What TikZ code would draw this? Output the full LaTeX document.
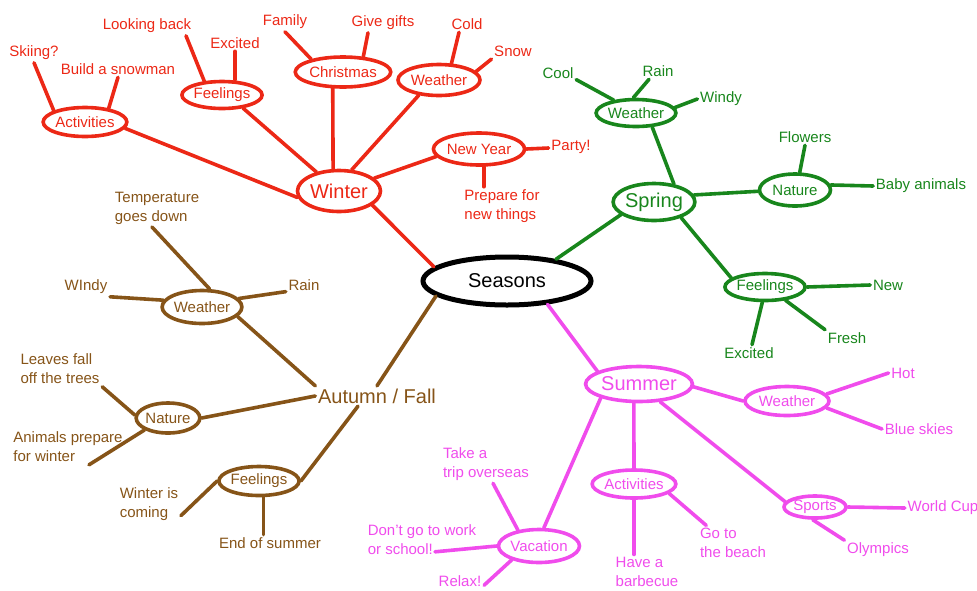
\documentclass[tikz,border=0pt]{standalone}
\usepackage{fontspec}
\setmainfont{Liberation Sans}
\usetikzlibrary{shapes.geometric}
\definecolor{wred}{RGB}{236,40,22}
\definecolor{sgreen}{RGB}{24,134,28}
\definecolor{fbrown}{RGB}{134,84,24}
\definecolor{smag}{RGB}{240,76,236}
\tikzset{
  bub/.style={ellipse, draw, line width=3.6pt, inner sep=0pt},
  sz/.style 2 args={minimum width=#1pt, minimum height=#2pt},
  lbl/.style={inner sep=1pt, align=left},
  big/.style={font=\fontsize{20}{24}\selectfont},
}

\begin{document}
\begin{tikzpicture}[x=1pt, y=-1pt, font=\fontsize{15}{19}\selectfont, line width=3.6pt, line cap=round]
  \useasboundingbox (0,0) rectangle (977,590);
  % centre
  \node[bub, big, line width=5pt, sz={168}{48}] (seasons) at (507,281) {Seasons};

  % winter (red)
  \begin{scope}[wred]
    \node[bub, big, sz={83}{41}] (winter) at (339,191) {Winter};
    \node[bub, sz={76}{29}] (wact) at (85,122) {Activities};
    \node[bub, sz={77}{27}] (wfeel) at (222,95) {Feelings};
    \node[bub, sz={80}{30}] (wchr) at (343,72) {Christmas};
    \node[bub, sz={82}{31}] (wwea) at (439,80) {Weather};
    \node[bub, sz={84}{32}] (wny) at (479,149) {New Year};
    \node[lbl] (ski) at (34,53) {Skiing?};
    \node[lbl] (snowman) at (118,69) {Build a snowman};
    \node[lbl] (look) at (147,26) {Looking back};
    \node[lbl] (wexc) at (235,43) {Excited};
    \node[lbl] (fam) at (285,22) {Family};
    \node[lbl] (gifts) at (383,23) {Give gifts};
    \node[lbl] (cold) at (467,24) {Cold};
    \node[lbl] (snow) at (513,51) {Snow};
    \node[lbl] (party) at (571,147) {Party!};
    \node[lbl] (prep) at (502,206) {Prepare for\\new things};
    \draw (ski.south) -- (wact.160);
    \draw (snowman.south) -- (wact.30);
    \draw (wact.-9) -- (winter.189);
    \draw ([xshift=-8pt]look.south east) -- (wfeel.142);
    \draw (wexc.south) -- (wexc.south |- wfeel.north);
    \draw (wfeel.-32) -- (winter.140);
    \draw (fam.south) -- (wchr.158);
    \draw ([xshift=-15pt]gifts.south) -- (wchr.37);
    \draw (wchr.-122) -- (winter.105);
    \draw ([xshift=-8pt]cold.south) -- (wwea.53);
    \draw (snow.south west) -- (wwea.13);
    \draw (wwea.-143) -- (winter.59);
    \draw (wny.190) -- (winter.20);
    \draw (wny.east) -- (party);
    \draw (wny.-75) -- (wny.-75 |- prep.north);
    \draw (winter.-23) -- (seasons.169);
  \end{scope}

  % spring (green)
  \begin{scope}[sgreen]
    \node[bub, big, sz={79}{37}] (spring) at (654,202) {Spring};
    \node[bub, sz={77}{27}] (gwea) at (636,113) {Weather};
    \node[bub, sz={71}{32}] (gnat) at (795,190) {Nature};
    \node[bub, sz={80}{27}] (gfeel) at (765,287) {Feelings};
    \node[lbl] (gcool) at (558,73) {Cool};
    \node[lbl] (grain) at (658,71) {Rain};
    \node[lbl] (gwindy) at (721,99) {Windy};
    \node[lbl] (gflow) at (805,137) {Flowers};
    \node[lbl] (gbaby) at (921,186) {Baby animals};
    \node[lbl] (gnew) at (888,285) {New};
    \node[lbl] (gfresh) at (847,338) {Fresh};
    \node[lbl] (gexc) at (749,353) {Excited};
    \draw (gcool.-20) -- (gwea.150);
    \draw ([xshift=-9pt]grain.south) -- (gwea.100);
    \draw (gwindy.west) -- (gwea.8);
    \draw (gwea.-41) -- (spring.42);
    \draw (spring.10) -- (gnat.182);
    \draw (gflow.south) -- (gnat.75);
    \draw (gnat.8) -- (gbaby.west);
    \draw (spring.-30) -- (gfeel.165);
    \draw (gfeel.east) -- (gnew.west);
    \draw (gfeel.-33) -- (gfresh.north west);
    \draw (gfeel.-100) -- ([xshift=3pt]gexc.north);
    \draw (spring.201) -- (seasons.24);
  \end{scope}

  % autumn (brown)
  \begin{scope}[fbrown]
    \node[big, inner sep=1pt] (autumn) at (377,396) {Autumn / Fall};
    \node[bub, sz={73}{33}] (bwea) at (202,307) {Weather};
    \node[bub, sz={61}{30}] (bnat) at (168,418) {Nature};
    \node[bub, sz={74}{29}] (bfeel) at (259,481) {Feelings};
    \node[lbl] (btemp) at (157,208) {Temperature\\goes down};
    \node[lbl] (bwindy) at (86,287) {WIndy};
    \node[lbl] (brain) at (304,285) {Rain};
    \node[lbl] (bleaves) at (60,369) {Leaves fall\\off the trees};
    \node[lbl] (banim) at (68,447) {Animals prepare\\for winter};
    \node[lbl] (bwin) at (149,504) {Winter is\\coming};
    \node[lbl] (bend) at (270,543) {End of summer};
    \draw ([xshift=-5pt]btemp.south) -- (bwea.67);
    \draw (bwindy.south east) -- (bwea.170);
    \draw (brain.200) -- (bwea.13);
    \draw (bwea.-15) -- (autumn.north west);
    \draw (bleaves.south east) -- (bnat.175);
    \draw ([xshift=21pt]banim.south) -- (bnat.207);
    \draw (bnat.east) -- (autumn.west);
    \draw ([xshift=-19pt]autumn.south) -- (bfeel.east);
    \draw (autumn.north) -- (seasons.192);
    \draw (bwin.-20) -- (bfeel.west);
    \draw (bfeel.-75) -- (bfeel.-75 |- bend.north);
  \end{scope}

  % summer (magenta)
  \begin{scope}[smag]
    \node[bub, big, sz={94}{35}] (summer) at (639,384) {Summer};
    \node[bub, sz={84}{29}] (mwea) at (787,401) {Weather};
    \node[bub, sz={79}{28}] (mact) at (634,484) {Activities};
    \node[bub, sz={62}{22}] (msport) at (815,507) {Sports};
    \node[bub, sz={77}{33}] (mvac) at (539,546) {Vacation};
    \node[lbl] (mhot) at (903,373) {Hot};
    \node[lbl] (mblue) at (919,429) {Blue skies};
    \node[lbl] (mtake) at (486,464) {Take a\\trip overseas};
    \node[lbl] (mdont) at (422,540) {Don't go to work\\or school!};
    \node[lbl] (mrelax) at (460,581) {Relax!};
    \node[lbl] (mbbq) at (647,572) {Have a\\barbecue};
    \node[lbl] (mgo) at (733,543) {Go to\\the beach};
    \node[lbl] (mwc) at (943,508) {World Cup};
    \node[lbl] (molym) at (878,550) {Olympics};
    \draw (seasons.-30) -- (summer.163);
    \draw (summer.-3) -- (mwea.180);
    \draw (mwea.10) -- (mhot.west);
    \draw (mwea.-10) -- (mblue.west);
    \draw (summer.-105) -- (mact.north);
    \draw (mact.south) -- (mact.south |- mbbq.north);
    \draw (mact.-15) -- ([xshift=9pt]mgo.north west);
    \draw (summer.-40) -- (msport.170);
    \draw (msport.east) -- (mwc.west);
    \draw (msport.-100) -- (molym.north west);
    \draw (summer.200) -- (mvac.75);
    \draw ([xshift=7pt]mtake.south) -- (mvac.143);
    \draw (mvac.west) -- ([xshift=70pt,yshift=6pt]mdont.south west);
    \draw (mrelax.-10) -- (mvac.207);
  \end{scope}
\end{tikzpicture}
\end{document}
